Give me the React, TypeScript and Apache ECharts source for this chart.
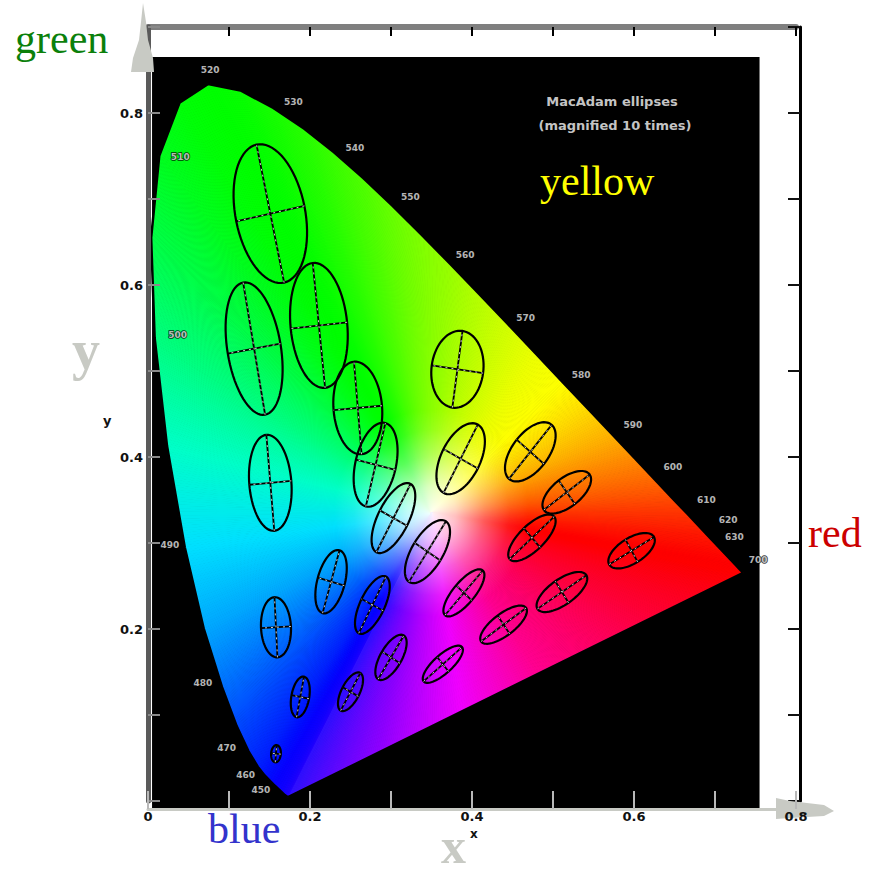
import React, { useEffect, useRef } from "react";
import * as echarts from "echarts";

// CIE 1931 spectral locus: wavelength (nm), x, y
const WAVELENGTHS = [380, 400, 420, 430, 440, 450, 460, 465, 470, 475, 480, 485, 490, 495, 500, 505, 510, 515, 520, 525, 530, 535, 540, 545, 550, 555, 560, 565, 570, 575, 580, 585, 590, 595, 600, 605, 610, 620, 630, 640, 650, 660, 680, 700];
const LOCUS_X = [0.1741, 0.1733, 0.1714, 0.1689, 0.1644, 0.1566, 0.144, 0.1355, 0.1241, 0.1096, 0.0913, 0.0687, 0.0454, 0.0235, 0.0082, 0.0039, 0.0139, 0.0389, 0.0743, 0.1142, 0.1547, 0.1929, 0.2296, 0.2658, 0.3016, 0.3373, 0.3731, 0.4087, 0.4441, 0.4788, 0.5125, 0.5448, 0.5752, 0.6029, 0.627, 0.6482, 0.6658, 0.6915, 0.7079, 0.719, 0.726, 0.73, 0.7334, 0.7347];
const LOCUS_Y = [0.005, 0.0048, 0.0051, 0.0069, 0.0109, 0.0177, 0.0297, 0.0399, 0.0578, 0.0868, 0.1327, 0.2007, 0.295, 0.4127, 0.5384, 0.6548, 0.7502, 0.812, 0.8338, 0.8262, 0.8059, 0.7816, 0.7543, 0.7243, 0.6923, 0.6589, 0.6245, 0.5896, 0.5547, 0.5202, 0.4866, 0.4544, 0.4242, 0.3965, 0.3725, 0.3514, 0.334, 0.3083, 0.292, 0.2809, 0.274, 0.27, 0.2666, 0.2653];
// display colour at each locus point
const LOCUS_COLORS = ["#3010ff", "#2808ff", "#2000ff", "#1800ff", "#1000ff", "#0800ff", "#0010ff", "#0020ff", "#0030ff", "#0048ff", "#0070ff", "#00a8ff", "#00e0ff", "#00ffc8", "#00ff80", "#00ff48", "#00ff20", "#00ff08", "#00ff00", "#08ff00", "#18ff00", "#28ff00", "#3cff00", "#50ff00", "#68ff00", "#80ff00", "#98ff00", "#b4ff00", "#d0ff00", "#ecff00", "#ffff00", "#ffd800", "#ffb000", "#ff8800", "#ff6800", "#ff4c00", "#ff3400", "#ff1800", "#ff0c00", "#ff0400", "#ff0000", "#ff0000", "#ff0000", "#ff0000"];
// colour stops along the line of purples (0 = 700 nm end, 1 = 380 nm end)
const PURPLE_STOPS: [number, string][] = [[0, "#ff0000"], [0.2, "#ff0038"], [0.45, "#ff0090"], [0.62, "#f000ff"], [0.8, "#9000ff"], [1, "#3010ff"]];
const WHITE_POINT = [0.35, 0.335];
const WHITE_RADIUS = 0.12;

// MacAdam ellipses (magnified)
const ELLIPSE_X = [0.151, 0.131, 0.211, 0.259, 0.281, 0.303, 0.345, 0.277, 0.226, 0.158, 0.151, 0.188, 0.158, 0.25, 0.3, 0.364, 0.39, 0.439, 0.511, 0.597, 0.474, 0.517, 0.472, 0.386, 0.382];
const ELLIPSE_Y = [0.683, 0.526, 0.553, 0.457, 0.391, 0.329, 0.29, 0.228, 0.255, 0.202, 0.37, 0.121, 0.055, 0.127, 0.167, 0.159, 0.242, 0.205, 0.243, 0.291, 0.306, 0.359, 0.406, 0.398, 0.502];
const ELLIPSE_A = [0.082, 0.078, 0.073, 0.054, 0.05, 0.045, 0.042, 0.037, 0.038, 0.035, 0.056, 0.024, 0.01, 0.025, 0.03, 0.031, 0.035, 0.034, 0.036, 0.032, 0.037, 0.035, 0.041, 0.045, 0.045];
const ELLIPSE_B = [0.043, 0.033, 0.035, 0.03, 0.025, 0.019, 0.019, 0.015, 0.017, 0.0185, 0.026, 0.011, 0.006, 0.011, 0.013, 0.011, 0.013, 0.013, 0.015, 0.015, 0.015, 0.017, 0.022, 0.024, 0.032];
const ELLIPSE_THETA = [102, 100, 96, 95, 76, 62, 57, 63, 74, 93, 95, 79, 85, 61, 58, 40, 48, 35, 33, 30, 42, 36, 50, 62, 82];

// wavelength labels
const LABEL_WAVELENGTHS = [450, 460, 470, 480, 490, 500, 510, 520, 530, 540, 550, 560, 570, 580, 590, 600, 610, 620, 630, 700];
const LABEL_OFFSETS = [[-14, 4], [-19, 0], [-22, -3], [-19, -4], [-15, -2], [23, -3], [21, 1], [2, -14], [20, -6], [21, -4], [18, -9], [15, -9], [18, -6], [18, -8], [19, -11], [17, -14], [19, -14], [20, -16], [13, -13], [15, -13]];

const X_TICKS = { min: 0, max: 0.8, interval: 0.1 };
const Y_TICKS = { min: 0, max: 0.9, interval: 0.1 };
const PLOT_BG = [0.005, -0.008, 0.755, 0.865];

function hexToRgb(h: string) {
  const v = parseInt(h.slice(1), 16);
  return [(v >> 16) & 255, (v >> 8) & 255, v & 255];
}
function mix(c1: string, c2: string, t: number) {
  const a = hexToRgb(c1), b = hexToRgb(c2);
  return "rgb(" + a.map((x, i) => Math.round(x + (b[i] - x) * t)).join(",") + ")";
}
function purpleAt(t: number) {
  for (let k = 1; k < PURPLE_STOPS.length; k++) {
    const [t0, c0] = PURPLE_STOPS[k - 1];
    const [t1, c1] = PURPLE_STOPS[k];
    if (t <= t1) return mix(c0, c1, (t - t0) / (t1 - t0));
  }
  return PURPLE_STOPS[PURPLE_STOPS.length - 1][1];
}

// fan of thin solid wedges from the white point to the edge A-B
function wedges(W: number[], A: number[], B: number[], colorAt: (t: number) => string) {
  const d = Math.hypot(B[0] - A[0], B[1] - A[1]);
  const K = Math.max(1, Math.ceil(d / 2.5));
  const out: any[] = [];
  for (let j = 0; j < K; j++) {
    const t0 = j / K, t1 = (j + 1) / K;
    const P0 = [A[0] + (B[0] - A[0]) * t0, A[1] + (B[1] - A[1]) * t0];
    const P1 = [A[0] + (B[0] - A[0]) * t1, A[1] + (B[1] - A[1]) * t1];
    const c = colorAt((t0 + t1) / 2);
    out.push({ type: "polygon", shape: { points: [W, P0, P1] }, style: { fill: c, stroke: c, lineWidth: 1, lineJoin: "round" } });
  }
  return out;
}

function buildOption() {
  const n = WAVELENGTHS.length;
  const fmtX = (v: number) => {
    const k = Math.round(v * 10);
    if (k % 2) return "";
    return k === 0 ? "0" : (k / 10).toFixed(1);
  };
  const fmtY = (v: number) => {
    const k = Math.round(v * 10);
    if (k % 2 || k === 0 || k > 8) return "";
    return (k / 10).toFixed(1);
  };
  const tickFont = { fontSize: 13, fontWeight: "bold", color: "#111", fontFamily: "DejaVu Sans" };
  const serif = "Liberation Serif";
  const txt = (x: number, y: number, text: string, fill: string, fontSize: number, extra: any = {}) => ({
    type: "text", z: 100,
    style: { x, y, text, fill, fontSize, fontFamily: serif, align: "left", verticalAlign: "middle", textAlign: "left", textVerticalAlign: "middle", ...extra },
  });

  return {
    animation: false,
    backgroundColor: "#fff",
    grid: { left: 148, right: 80, top: 27, bottom: 75 },
    xAxis: [
      {
        type: "value", position: "bottom", ...X_TICKS, offset: 8, z: 10,
        axisLine: { show: true, onZero: false, lineStyle: { color: "#c8cac4", width: 3 } },
        axisTick: { show: true, inside: true, length: 18, lineStyle: { color: "#b8b8b8", width: 2 } },
        axisLabel: { formatter: fmtX, margin: 1, ...tickFont },
        splitLine: { show: false },
      },
      {
        type: "value", position: "top", ...X_TICKS,
        axisLine: { show: true, onZero: false, lineStyle: { color: "#7f7f7f", width: 6 } },
        axisTick: { show: true, inside: true, length: 9, lineStyle: { color: "#000", width: 2 } },
        axisLabel: { show: false },
        splitLine: { show: false },
      },
    ],
    yAxis: [
      {
        type: "value", position: "left", ...Y_TICKS, z: 10,
        axisLine: { show: true, onZero: false, lineStyle: { color: "#5a5a5a", width: 5 } },
        axisTick: { show: true, inside: true, length: 12, lineStyle: { color: "#8a8a8a", width: 2 } },
        axisLabel: { formatter: fmtY, margin: 5, ...tickFont },
        splitLine: { show: false },
      },
      {
        type: "value", position: "right", ...Y_TICKS, offset: 4,
        axisLine: { show: true, onZero: false, lineStyle: { color: "#000", width: 3 } },
        axisTick: { show: true, inside: true, length: 12, lineStyle: { color: "#111", width: 2 } },
        axisLabel: { show: false },
        splitLine: { show: false },
      },
    ],
    series: [
      {
        type: "custom", z: 1, silent: true,
        data: [[PLOT_BG[0], PLOT_BG[1]]],
        renderItem: (_p: any, api: any) => {
          const p0 = api.coord([PLOT_BG[0], PLOT_BG[1]]);
          const p1 = api.coord([PLOT_BG[2], PLOT_BG[3]]);
          return { type: "rect", shape: { x: p0[0], y: p1[1], width: p1[0] - p0[0], height: p0[1] - p1[1] }, style: { fill: "#000" } };
        },
      },
      {
        type: "custom", z: 2, silent: true,
        data: WAVELENGTHS.map((_, i) => [LOCUS_X[i], LOCUS_Y[i]]),
        renderItem: (params: any, api: any) => {
          const i = params.dataIndex;
          const W = api.coord(WHITE_POINT);
          if (i < n - 1) {
            const A = api.coord([LOCUS_X[i], LOCUS_Y[i]]);
            const B = api.coord([LOCUS_X[i + 1], LOCUS_Y[i + 1]]);
            return { type: "group", children: wedges(W, A, B, (t) => mix(LOCUS_COLORS[i], LOCUS_COLORS[i + 1], t)) };
          }
          const A = api.coord([LOCUS_X[n - 1], LOCUS_Y[n - 1]]);
          const B = api.coord([LOCUS_X[0], LOCUS_Y[0]]);
          return { type: "group", children: wedges(W, A, B, purpleAt) };
        },
      },
      {
        type: "custom", z: 3, silent: true,
        data: [WHITE_POINT],
        renderItem: (_p: any, api: any) => {
          const c = api.coord(WHITE_POINT);
          const s = api.size([WHITE_RADIUS, WHITE_RADIUS]);
          return {
            type: "circle", x: c[0], y: c[1], scaleY: s[1] / s[0],
            shape: { cx: 0, cy: 0, r: s[0] },
            style: {
              fill: new echarts.graphic.RadialGradient(0.5, 0.5, 0.5, [
                { offset: 0, color: "rgba(255,255,255,0.95)" },
                { offset: 0.25, color: "rgba(255,255,255,0.75)" },
                { offset: 0.55, color: "rgba(255,255,255,0.35)" },
                { offset: 0.8, color: "rgba(255,255,255,0.1)" },
                { offset: 1, color: "rgba(255,255,255,0)" },
              ]),
            },
          };
        },
      },
      {
        type: "line", z: 4, silent: true, symbol: "none", clip: false,
        data: [...WAVELENGTHS.map((_, i) => [LOCUS_X[i], LOCUS_Y[i]]), [LOCUS_X[0], LOCUS_Y[0]]],
        lineStyle: { color: "#000", width: 2.5 },
      },
      {
        type: "custom", z: 5, silent: true,
        encode: { x: 0, y: 1 },
        data: ELLIPSE_X.map((x, i) => [x, ELLIPSE_Y[i], ELLIPSE_A[i], ELLIPSE_B[i], ELLIPSE_THETA[i]]),
        renderItem: (_p: any, api: any) => {
          const cx = api.value(0), cy = api.value(1), a = api.value(2), b = api.value(3);
          const th = (api.value(4) * Math.PI) / 180;
          const ct = Math.cos(th), st = Math.sin(th);
          const pts: number[][] = [];
          for (let k = 0; k < 72; k++) {
            const t = (k / 72) * Math.PI * 2;
            const dx = a * Math.cos(t), dy = b * Math.sin(t);
            pts.push(api.coord([cx + dx * ct - dy * st, cy + dx * st + dy * ct]));
          }
          const m0 = api.coord([cx - a * ct, cy - a * st]);
          const m1 = api.coord([cx + a * ct, cy + a * st]);
          const n0 = api.coord([cx + b * st, cy - b * ct]);
          const n1 = api.coord([cx - b * st, cy + b * ct]);
          const axis = (p: number[], q: number[], style: any) => ({ type: "line", shape: { x1: p[0], y1: p[1], x2: q[0], y2: q[1] }, style });
          const blackAx = { stroke: "#000", lineWidth: 1.8 };
          const speck = { stroke: "rgba(235,235,235,0.85)", lineWidth: 1, lineDash: [2, 4] };
          return {
            type: "group",
            children: [
              { type: "polygon", shape: { points: pts }, style: { fill: "none", stroke: "#000", lineWidth: 2.2 } },
              axis(m0, m1, blackAx),
              axis(n0, n1, blackAx),
              axis(m0, m1, speck),
              axis(n0, n1, speck),
            ],
          };
        },
      },
      {
        type: "scatter", z: 6, silent: true, symbolSize: 1,
        itemStyle: { color: "transparent" },
        data: LABEL_WAVELENGTHS.map((w, i) => {
          const k = WAVELENGTHS.indexOf(w);
          return { value: [LOCUS_X[k], LOCUS_Y[k]], label: { offset: LABEL_OFFSETS[i] } };
        }),
        label: {
          show: true, position: "inside",
          formatter: (p: any) => String(LABEL_WAVELENGTHS[p.dataIndex]),
          fontSize: 9, fontWeight: "bold", fontFamily: "DejaVu Sans",
          color: "#e6e6e6", textBorderColor: "#000", textBorderWidth: 1.5,
        },
      },
    ],
    graphic: {
      elements: [
        { type: "polygon", z: 100, shape: { points: [[143, 3], [146, 22], [148, 40], [153, 58], [154, 72], [131, 72], [133, 58], [139, 40], [141, 22]] }, style: { fill: "#c8cac4" } },
        { type: "polygon", z: 5, shape: { points: [[776, 798], [790, 801], [824, 805], [834, 811], [824, 816], [790, 818], [776, 819]] }, style: { fill: "#c8cac4" } },
        txt(15, 39, "green", "#0b800b", 42),
        txt(540, 181, "yellow", "#ffff00", 42),
        txt(808, 533, "red", "#cc0000", 42),
        txt(208, 829, "blue", "#3333cc", 42),
        txt(72, 350, "y", "#c8cac4", 56, { fontWeight: "bold" }),
        txt(441, 846, "x", "#c8cac4", 50, { fontWeight: "bold" }),
        txt(103, 420, "y", "#111", 13, { fontWeight: "bold", fontFamily: "DejaVu Sans" }),
        txt(470, 834, "x", "#111", 12, { fontWeight: "bold", fontFamily: "DejaVu Sans" }),
        txt(612, 101, "MacAdam ellipses", "#c4c4c4", 13, { fontWeight: "bold", fontFamily: "DejaVu Sans", align: "center", textAlign: "center" }),
        txt(615, 125, "(magnified 10 times)", "#c4c4c4", 13, { fontWeight: "bold", fontFamily: "DejaVu Sans", align: "center", textAlign: "center" }),
      ],
    },
  };
}

export default function App() {
  const ref = useRef<HTMLDivElement>(null);
  useEffect(() => {
    if (!ref.current) return;
    const chart = echarts.init(ref.current, null, { renderer: "svg" });
    chart.setOption(buildOption() as any);
    return () => chart.dispose();
  }, []);
  return <div ref={ref} style={{ position: "fixed", left: 0, top: 0, width: 876, height: 876, background: "#fff" }} />;
}
